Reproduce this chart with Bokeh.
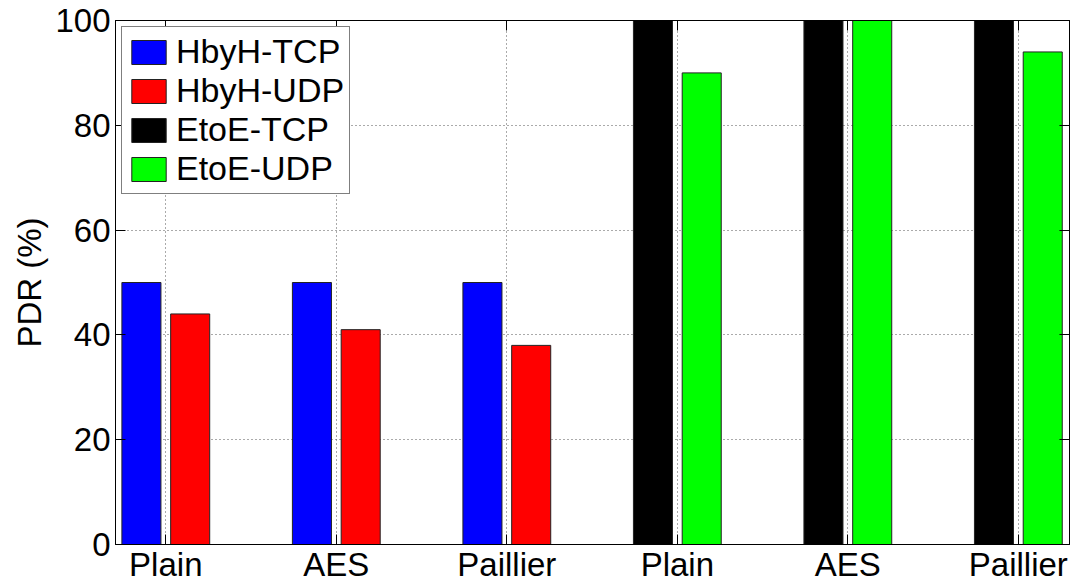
from bokeh.plotting import figure
from bokeh.models import FixedTicker, LinearAxis, Range1d, ColumnDataSource
from bokeh.transform import dodge
from bokeh.embed import file_html
from bokeh.resources import INLINE

# ---- data ----
group_labels = ["Plain", "AES", "Paillier", "Plain", "AES", "Paillier"]
group_pos = [1, 2, 3, 4, 5, 6]
hbyh_pos = [1, 2, 3]
etoe_pos = [4, 5, 6]
hbyh_tcp = [50, 50, 50]
hbyh_udp = [44, 41, 38]
etoe_tcp = [100, 100, 100]
etoe_udp = [90, 100, 94]
y_ticks = [0, 20, 40, 60, 80, 100]

FONT = "Liberation Sans"
BAR_W = 0.229
OFF = 0.143

p = figure(width=1076, height=585, output_backend="svg", toolbar_location=None,
           x_range=Range1d(0.705, 6.30), y_range=Range1d(0, 100),
           min_border_left=115, min_border_top=20, min_border_right=7,
           min_border_bottom=41)

p.background_fill_color = "white"
p.border_fill_color = "white"
p.outline_line_color = "black"
p.outline_line_width = 1

src_ht = ColumnDataSource(dict(x=hbyh_pos, top=hbyh_tcp))
src_hu = ColumnDataSource(dict(x=hbyh_pos, top=hbyh_udp))
src_et = ColumnDataSource(dict(x=etoe_pos, top=etoe_tcp))
src_eu = ColumnDataSource(dict(x=etoe_pos, top=etoe_udp))

common = dict(width=BAR_W, bottom=0, line_color="#222222", line_width=1)
p.vbar(x=dodge("x", -OFF), top="top", source=src_ht, fill_color="#0000ff",
       legend_label="HbyH-TCP", **common)
p.vbar(x=dodge("x", OFF), top="top", source=src_hu, fill_color="#ff0000",
       legend_label="HbyH-UDP", **common)
p.vbar(x=dodge("x", -OFF), top="top", source=src_et, fill_color="#000000",
       legend_label="EtoE-TCP", **common)
p.vbar(x=dodge("x", OFF), top="top", source=src_eu, fill_color="#00ff00",
       legend_label="EtoE-UDP", **common)

# axes
xt = FixedTicker(ticks=group_pos)
yt = FixedTicker(ticks=y_ticks)
p.xaxis.ticker = xt
p.yaxis.ticker = yt
p.xaxis.major_label_overrides = {pos: lab for pos, lab in zip(group_pos, group_labels)}

for ax in (p.xaxis[0], p.yaxis[0]):
    ax.major_tick_in = 10
    ax.major_tick_out = 0
    ax.minor_tick_line_color = None
    ax.axis_line_color = "black"
    ax.major_tick_line_color = "black"
    ax.major_label_text_font = FONT
    ax.major_label_text_font_size = "33px"
    ax.major_label_text_color = "black"
p.xaxis.major_label_standoff = 1
p.yaxis.major_label_standoff = 5
p.yaxis.axis_label = "PDR (%)"
p.yaxis.axis_label_text_font = FONT
p.yaxis.axis_label_text_font_size = "33px"
p.yaxis.axis_label_text_font_style = "normal"
p.yaxis.axis_label_text_color = "black"
p.yaxis.axis_label_standoff = 4

# box ticks on top and right (no labels)
top_ax = LinearAxis(ticker=FixedTicker(ticks=group_pos), major_tick_in=10, major_tick_out=0,
                    minor_tick_line_color=None, major_label_text_color=None,
                    major_label_text_font_size="1px",
                    major_label_standoff=0, axis_line_color="black")
right_ax = LinearAxis(ticker=FixedTicker(ticks=y_ticks), major_tick_in=10, major_tick_out=0,
                      minor_tick_line_color=None, major_label_text_color=None,
                      major_label_text_font_size="1px",
                      major_label_standoff=0, axis_line_color="black")
p.add_layout(top_ax, "above")
p.add_layout(right_ax, "right")

# grid
for g in (p.xgrid[0], p.ygrid[0]):
    g.grid_line_color = "#555555"
    g.grid_line_dash = "1 3"
    g.grid_line_width = 1
p.xgrid.ticker = xt
p.ygrid.ticker = yt

# legend
lg = p.legend[0]
lg.location = "top_left"
lg.margin = 6
lg.padding = 5
lg.spacing = 0
lg.glyph_width = 43
lg.glyph_height = 30
lg.label_standoff = 6
lg.label_text_font = FONT
lg.label_text_font_size = "34px"
lg.label_text_color = "black"
lg.border_line_color = "black"
lg.border_line_width = 1
lg.background_fill_alpha = 1

open("out.html", "w").write(file_html(p, INLINE))
